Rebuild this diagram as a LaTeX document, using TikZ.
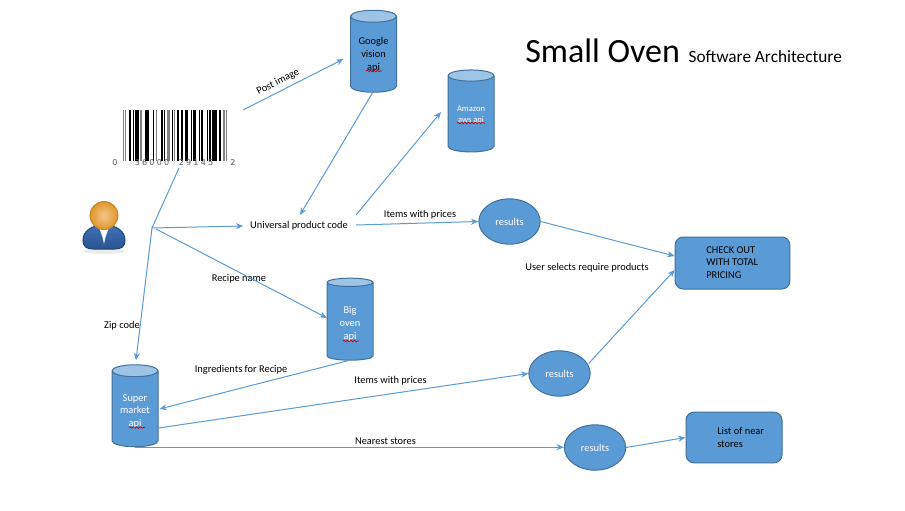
\documentclass[tikz,border=0pt]{standalone}
\usepackage{fontspec}
\setmainfont{Carlito}
\newfontfamily\digitfont[LetterSpace=28]{DejaVu Sans}
\usetikzlibrary{shapes.geometric,arrows.meta,decorations.pathmorphing}
\definecolor{boxfill}{HTML}{5B9BD5}
\definecolor{boxedge}{HTML}{41719C}
\definecolor{boxtop}{HTML}{9DC3E6}
\definecolor{headin}{HTML}{F2C88C}
\definecolor{headout}{HTML}{E0962A}
\definecolor{headrim}{HTML}{C98A2E}
\definecolor{suittop}{HTML}{3F72B4}
\definecolor{suitlow}{HTML}{2A5590}
\definecolor{suitrim}{HTML}{1F4478}
\tikzset{
  x=0.75pt,y=-0.75pt,
  link/.style={draw=boxfill,line width=0.75pt},
  flow/.style={link,-{Stealth[length=5.5pt,width=4.5pt]}},
  lbl/.style={font=\fontsize{7.8}{9}\selectfont,inner sep=0pt,text=black},
  apicyl/.style={cylinder,shape border rotate=90,aspect=0.4,draw=boxedge,line width=0.75pt,
    cylinder uses custom fill,cylinder body fill=boxfill,cylinder end fill=boxtop,
    minimum width=34.5pt,minimum height=61.5pt,inner sep=0pt,align=center,
    font=\fontsize{7.8}{9.6}\selectfont,text=white},
  disc/.style={ellipse,draw=boxedge,line width=0.75pt,fill=boxfill,minimum width=46pt,minimum height=34pt,
    inner sep=0pt,font=\fontsize{7.8}{9}\selectfont,text=white},
  panel/.style={draw=boxedge,line width=0.75pt,fill=boxfill,rounded corners=6pt,inner sep=0pt},
  panellbl/.style={font=\fontsize{7.8}{9.6}\selectfont,inner sep=0pt,align=left,text=black},
  squig/.style={draw=red!80!black,line width=0.5pt,decorate,decoration={snake,amplitude=0.6pt,segment length=2.6pt}},
  bar/.style={fill=black,draw=none},
  gbar/.style={fill=black!50,draw=none},
  digits/.style={inner sep=0pt,text=black!65,font=\digitfont\fontsize{6}{7}\selectfont}
}
\begin{document}
\begin{tikzpicture}
\useasboundingbox (0,0) rectangle (905,510);
\fill[white] (0,0) rectangle (905,510);

% title
\node[anchor=base west,inner sep=0pt] (title) at (525,62)
  {\fontsize{25.5}{30}\selectfont Small Oven\hspace{6.5pt}\fontsize{12.95}{14}\selectfont Software Architecture};

% barcode
\foreach \a/\b in {129.3/130.7,132.7/134,134.7/139.3,144.7/149.3,152.7/154,160.7/162.7,164/165.3,172/173.3,177.3/179.3,180.7/182.7,185.3/188,190.7/191.3,193.3/196,198.7/200,201.3/203.3,206.7/208,209.3/210.7,212/216.7,218.7/220.7}
  \fill[bar] (\a,110) rectangle (\b,161);
\foreach \a/\b in {122.7/124,125/126.3,140/142,156/156.7,167.3/170,174/175.3,223.3/224.7,226/226.7}
  \fill[gbar] (\a,110) rectangle (\b,161);
\node[digits] (d0) at (115,163) {0};
\node[digits] (d1) at (152,163) {36000};
\node[digits] (d2) at (196,163) {29145};
\node[digits] (d3) at (233,163) {2};
\coordinate (barcodefoot) at (179,168);
\coordinate (postfrom) at (243,110);

% person
\fill[black!25,opacity=.3] (104,251) ellipse (21 and 3);
\path[draw=suitrim,line width=0.75pt,top color=suittop,bottom color=suitlow]
  (83,240) .. controls (83,231) and (92,225) .. (104,225) .. controls (116,225) and (125,231) .. (125,240)
  .. controls (125,247) and (121,249) .. (115,249) -- (93,249) .. controls (87,249) and (83,247) .. (83,240) -- cycle;
\fill[white] (99,227) -- (109,227) -- (105.5,237) -- (104,244) -- (102.5,237) -- cycle;
\shade[inner color=headin,outer color=headout,draw=headrim,line width=0.75pt] (104,215.5) circle (14);

% cylinders
\node[apicyl,text=black] (google) at (373.5,54.5) {Google\\vision\\api};
\node[apicyl,font=\fontsize{6.4}{8}\selectfont] (amazon) at (471,114) {\rule{0pt}{5.5pt}Amazon\\aws api};
\node[apicyl] (bigoven) at (350,321.5) {\rule{0pt}{8.5pt}Big\\oven\\api};
\node[apicyl] (super) at (135,409) {\rule{0pt}{8.5pt}Super\\market\\api};
\path[squig] (366,71) -- (382,71);
\path[squig] (457,123) -- (485,123);
\path[squig] (343,341) -- (359,341);
\path[squig] (129,427.5) -- (145,427.5);

% ellipses
\node[disc] (res1) at (509.5,221.5) {results};
\node[disc] (res2) at (559.5,373.5) {results};
\node[disc] (res3) at (595,447.5) {results};

% boxes
\node[panel,minimum width=86pt,minimum height=39pt] (checkout) at (732.5,263) {};
\node[panel,minimum width=72pt,minimum height=38pt] (near) at (734,437.5) {};
\node[panellbl,anchor=north west] (checkouttext) at (706,246) {CHECK OUT\\WITH TOTAL\\PRICING};
\node[panellbl,anchor=north west] (neartext) at (717,427) {List of near\\stores};

% labels
\node[lbl,rotate=27] (lpost) at (278,82) {Post image};
\node[lbl] (upc) at (299,226) {Universal product code};
\node[lbl] (lprice1) at (420,215) {Items with prices};
\node[lbl] (lselect) at (587,268) {User selects require products};
\node[lbl] (lrecipe) at (239,279) {Recipe name};
\node[lbl] (lzip) at (122,326) {Zip code};
\node[lbl] (lingr) at (241,370) {Ingredients for Recipe};
\node[lbl] (lprice2) at (390.5,381) {Items with prices};
\node[lbl] (lstores) at (385.5,441) {Nearest stores};

% hub and connectors
\coordinate (hub) at (152,228);
\draw[link] (barcodefoot) -- (hub);
\draw[flow] (hub) -- ([xshift=-5pt]upc.west);
\draw[flow] ([shift={(4,1)}]hub) -- ([shift={(-23,-3.5)}]bigoven.center);
\draw[flow] (hub) -- ([shift={(1,-4)}]super.north);
\draw[flow] (postfrom) -- ([shift={(-30,4.5)}]google.center);
\draw[flow] ([shift={(-1,0)}]google.south) -- ([shift={(1,-11)}]upc.center);
\draw[flow] ([shift={(8,-11)}]upc.east) -- ([shift={(-30,-2)}]amazon.center);
\draw[flow] ([shift={(8,-1)}]upc.east) -- (res1.west);
\draw[flow] (res1.east) -- ([shift={(0,-7)}]checkout.west);
\draw[flow] ([shift={(-2,-10)}]res2.east) -- ([shift={(0,7)}]checkout.west);
\draw[flow] ([shift={(-2,0)}]bigoven.south) -- ([shift={(1,0)}]super.east);
\draw[flow] ([shift={(0,19)}]super.east) -- (res2.west);
\draw[flow] (super.south) -- (super.south -| res3.west);
\draw[flow] (res3.east) -- (near.west);
\end{tikzpicture}
\end{document}
